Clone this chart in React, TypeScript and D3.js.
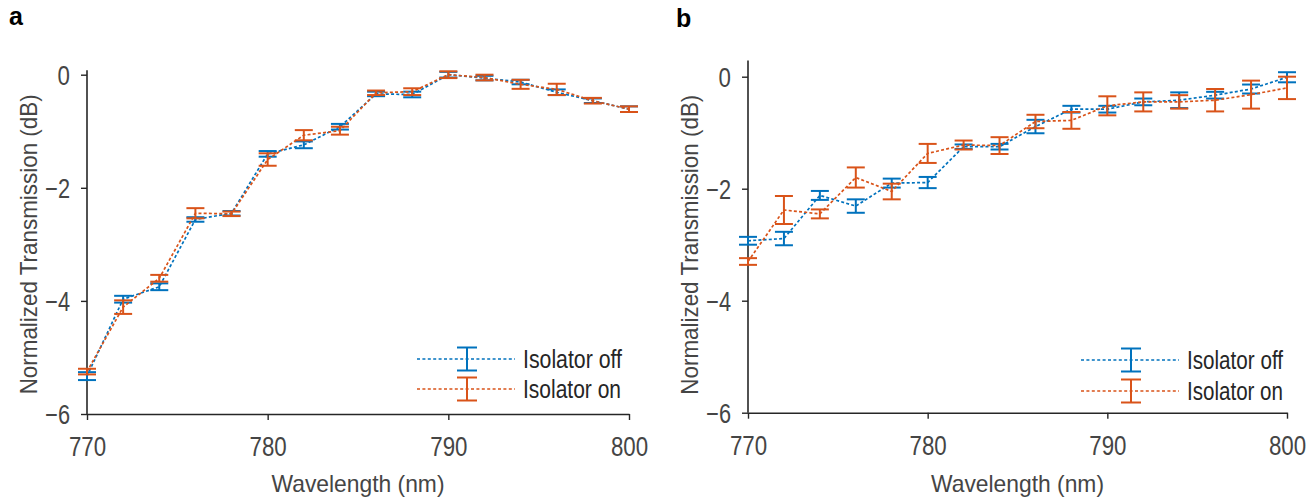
import React, { useEffect, useRef } from 'react';
import * as d3 from 'd3';

const wavelengths = [770, 772, 774, 776, 778, 780, 782, 784, 786, 788, 790, 792, 794, 796, 798, 800];
const xTicks = [770, 780, 790, 800];
const yTicks = [-6, -4, -2, 0];
const seriesNames = ['Isolator off', 'Isolator on'];

// panel a
const aOff = [-5.33, -3.97, -3.75, -2.56, -2.45, -1.40, -1.24, -0.92, -0.34, -0.35, 0.0, -0.06, -0.13, -0.31, -0.46, -0.61];
const aOffErr = [0.07, 0.06, 0.06, 0.04, 0.04, 0.05, 0.06, 0.05, 0.04, 0.05, 0.05, 0.04, 0.04, 0.05, 0.04, 0.05];
const aOn = [-5.25, -4.11, -3.60, -2.45, -2.46, -1.50, -1.07, -0.99, -0.32, -0.30, 0.0, -0.05, -0.17, -0.26, -0.46, -0.61];
const aOnErr = [0.05, 0.12, 0.06, 0.09, 0.04, 0.11, 0.09, 0.07, 0.04, 0.06, 0.06, 0.05, 0.08, 0.10, 0.05, 0.05];

// panel b
const bOff = [-2.93, -2.89, -2.12, -2.31, -1.90, -1.89, -1.25, -1.25, -0.89, -0.58, -0.58, -0.45, -0.42, -0.33, -0.22, -0.01];
const bOffErr = [0.07, 0.12, 0.08, 0.12, 0.08, 0.10, 0.04, 0.05, 0.12, 0.06, 0.06, 0.06, 0.14, 0.06, 0.08, 0.09];
const bOn = [-3.30, -2.38, -2.45, -1.80, -2.05, -1.37, -1.22, -1.23, -0.80, -0.78, -0.52, -0.45, -0.45, -0.42, -0.32, -0.20];
const bOnErr = [0.06, 0.25, 0.08, 0.18, 0.14, 0.17, 0.08, 0.15, 0.12, 0.15, 0.17, 0.17, 0.12, 0.20, 0.25, 0.20];

const colors = ['#0072BD', '#D95319'];
const FONT = '"Liberation Sans Narrow", "Arial Narrow", "Liberation Sans", Arial, sans-serif';
const AXIS = '#262626';
const TEXT = '#454545';

// narrow look: squeeze labels to the measured widths
const labelWidth = (s: string) => s.split('').reduce((w, c) => w + (c === '-' ? 7.5 : 12.4), 0);

const App = () => {
    const svgRef = useRef(null);

    useEffect(() => {
        const svg = d3.select(svgRef.current);
        svg.selectAll('*').remove();

        const panels = [
            {
                label: 'a', left: 87, right: 629, yBottom: 414, yZero: 74.7, yTop: 0.08,
                labelX: 9, labelY: 25, legX: 417, legY: [359, 389], legText: 523, legW: [99, 98],
                series: [[aOff, aOffErr], [aOn, aOnErr]]
            },
            {
                label: 'b', left: 748, right: 1287, yBottom: 412.7, yZero: 76.7, yTop: 0.29,
                labelX: 676, labelY: 27, legX: 1081, legY: [360, 391], legText: 1187, legW: [96, 96],
                series: [[bOff, bOffErr], [bOn, bOnErr]]
            }
        ];

        panels.forEach(p => {
            const xScale = d3.scaleLinear().domain([770, 800]).range([p.left, p.right]);
            const yScale = d3.scaleLinear().domain([-6, 0]).range([p.yBottom, p.yZero]);

            const g = svg.append('g').attr('class', 'panel-' + p.label);

            // panel letter
            g.append('text')
                .attr('x', p.labelX)
                .attr('y', p.labelY)
                .attr('font-family', '"Liberation Sans", Arial, sans-serif')
                .attr('font-weight', 'bold')
                .attr('font-size', 25)
                .attr('fill', '#000')
                .text(p.label);

            // x axis
            const xAxis = d3.axisBottom(xScale)
                .tickValues(xTicks)
                .tickSize(6)
                .tickSizeOuter(0)
                .tickFormat(d3.format('d'));
            const gX = g.append('g')
                .attr('transform', `translate(0, ${p.yBottom})`)
                .call(xAxis);
            gX.select('.domain').attr('stroke', AXIS).attr('stroke-width', 1.6);
            gX.selectAll('.tick line').attr('stroke', AXIS).attr('stroke-width', 1.4);
            gX.selectAll('.tick text')
                .attr('y', 42)
                .attr('dy', null)
                .attr('fill', TEXT)
                .attr('font-family', FONT)
                .attr('font-size', 27)
                .attr('textLength', d => labelWidth(String(d)))
                .attr('lengthAdjust', 'spacingAndGlyphs');

            // y axis
            const yAxis = d3.axisLeft(yScale)
                .tickValues(yTicks)
                .tickSize(6)
                .tickSizeOuter(0)
                .tickFormat(d3.format('d'));
            const gY = g.append('g')
                .attr('transform', `translate(${p.left}, 0)`)
                .call(yAxis);
            gY.select('.domain').remove();
            gY.append('line')
                .attr('x1', 0).attr('x2', 0)
                .attr('y1', yScale(-6)).attr('y2', yScale(p.yTop))
                .attr('stroke', AXIS).attr('stroke-width', 1.6);
            gY.selectAll('.tick line').attr('stroke', AXIS).attr('stroke-width', 1.4);
            gY.selectAll('.tick text')
                .attr('x', -17)
                .attr('dy', '0.36em')
                .attr('fill', TEXT)
                .attr('font-family', FONT)
                .attr('font-size', 27)
                .attr('textLength', d => labelWidth(d3.format('d')(d)))
                .attr('lengthAdjust', 'spacingAndGlyphs');

            // axis titles
            g.append('text')
                .attr('x', (p.left + p.right) / 2)
                .attr('y', 492)
                .attr('text-anchor', 'middle')
                .attr('fill', TEXT)
                .attr('font-family', FONT)
                .attr('font-size', 24)
                .attr('textLength', 173)
                .attr('lengthAdjust', 'spacingAndGlyphs')
                .text('Wavelength (nm)');

            g.append('text')
                .attr('transform', `translate(${p.left - 50}, ${(yScale(-6) + yScale(0)) / 2}) rotate(-90)`)
                .attr('text-anchor', 'middle')
                .attr('fill', TEXT)
                .attr('font-family', FONT)
                .attr('font-size', 24)
                .attr('textLength', 300)
                .attr('lengthAdjust', 'spacingAndGlyphs')
                .text('Normalized Transmission (dB)');

            const line_generator = d3.line()
                .x((d, i) => xScale(wavelengths[i]))
                .y(d => yScale(d));

            p.series.forEach(([vals, errs], si) => {
                const sg = g.append('g').attr('class', 'series');
                sg.append('path')
                    .attr('d', line_generator(vals))
                    .attr('fill', 'none')
                    .attr('stroke', colors[si])
                    .attr('stroke-width', 1.7)
                    .attr('stroke-dasharray', '3,2.2');

                const bars = sg.selectAll('.errbar')
                    .data(vals.map((v, i) => ({ x: wavelengths[i], v, e: errs[i] })))
                    .enter()
                    .append('g')
                    .attr('class', 'errbar')
                    .attr('stroke', colors[si])
                    .attr('stroke-width', 2);
                bars.append('line')
                    .attr('x1', d => xScale(d.x)).attr('x2', d => xScale(d.x))
                    .attr('y1', d => yScale(d.v - d.e)).attr('y2', d => yScale(d.v + d.e));
                bars.append('line')
                    .attr('x1', d => xScale(d.x) - 9).attr('x2', d => xScale(d.x) + 9)
                    .attr('y1', d => yScale(d.v - d.e)).attr('y2', d => yScale(d.v - d.e));
                bars.append('line')
                    .attr('x1', d => xScale(d.x) - 9).attr('x2', d => xScale(d.x) + 9)
                    .attr('y1', d => yScale(d.v + d.e)).attr('y2', d => yScale(d.v + d.e));
            });

            // legend
            const legend = g.append('g').attr('class', 'legend');
            seriesNames.forEach((name, i) => {
                const ly = p.legY[i];
                const midX = p.legX + 50;
                legend.append('line')
                    .attr('x1', p.legX).attr('x2', p.legX + 98)
                    .attr('y1', ly).attr('y2', ly)
                    .attr('stroke', colors[i])
                    .attr('stroke-width', 1.7)
                    .attr('stroke-dasharray', '3,2.4');
                const eg = legend.append('g').attr('stroke', colors[i]).attr('stroke-width', 2);
                eg.append('line').attr('x1', midX).attr('x2', midX).attr('y1', ly - 11.5).attr('y2', ly + 11.5);
                eg.append('line').attr('x1', midX - 10).attr('x2', midX + 10).attr('y1', ly - 11.5).attr('y2', ly - 11.5);
                eg.append('line').attr('x1', midX - 10).attr('x2', midX + 10).attr('y1', ly + 11.5).attr('y2', ly + 11.5);
                legend.append('text')
                    .attr('x', p.legText)
                    .attr('y', ly + 9)
                    .attr('fill', '#262626')
                    .attr('font-family', FONT)
                    .attr('font-size', 25)
                    .attr('textLength', p.legW[i])
                    .attr('lengthAdjust', 'spacingAndGlyphs')
                    .text(name);
            });
        });
    }, []);

    return (
        <svg
            ref={svgRef}
            width={1314}
            height={502}
            style={{ position: 'absolute', left: 0, top: 0, background: '#fff' }}
        />
    );
};

export default App;
